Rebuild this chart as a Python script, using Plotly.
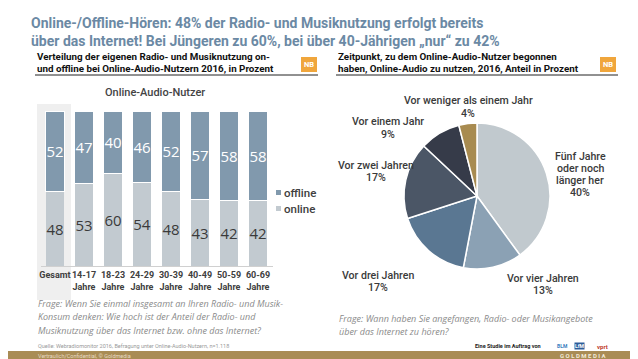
import plotly.graph_objects as go

# ---- data ----
categories = ["Gesamt", "14-17<br>Jahre", "18-23<br>Jahre", "24-29<br>Jahre", "30-39<br>Jahre",
              "40-49<br>Jahre", "50-59<br>Jahre", "60-69<br>Jahre"]
online = [48, 53, 60, 54, 48, 43, 42, 42]
offline = [52, 47, 40, 46, 52, 57, 58, 58]

pie_labels = ["Fünf Jahre oder noch länger her", "Vor vier Jahren", "Vor drei Jahren",
              "Vor zwei Jahren", "Vor einem Jahr", "Vor weniger als einem Jahr"]
pie_values = [40, 13, 17, 17, 9, 4]
pie_label_lines = [["Fünf Jahre", "oder noch", "länger her"], ["Vor vier Jahren"], ["Vor drei Jahren"],
                   ["Vor zwei Jahren"], ["Vor einem Jahr"], ["Vor weniger als einem Jahr"]]

W, H = 638, 359
def px(x): return x / W
def py(y): return 1 - y / H

FONT = "Roboto, sans-serif"
C_OFF = "#8199ad"
C_ON = "#c2cad0"
pie_colors = ["#c1c9ce", "#8ba1b4", "#5a7792", "#4b5666", "#363b49", "#a88b50"]

fig = go.Figure()

fig.add_trace(go.Bar(
    x=categories, y=online, name="online", marker_color=C_ON,
    marker_line_width=0,
    text=online, textposition="inside", insidetextanchor="middle",
    textfont=dict(color="#3a3a3a", size=15, family="Open Sans"),
    showlegend=False, xaxis="x", yaxis="y"))
fig.add_trace(go.Bar(
    x=categories, y=offline, name="offline", marker_color=C_OFF,
    marker_line=dict(color="white", width=1),
    text=offline, textposition="inside", insidetextanchor="middle",
    textfont=dict(color="white", size=15, family="Open Sans"),
    showlegend=False, xaxis="x", yaxis="y"))

fig.add_trace(go.Pie(
    labels=pie_labels, values=pie_values, sort=False, direction="clockwise", rotation=0,
    marker=dict(colors=pie_colors, line=dict(color="white", width=1.5)),
    textinfo="none", hoverinfo="label+percent", showlegend=False,
    domain=dict(x=[px(396), px(542)], y=[py(261), py(115)])))

fig.update_layout(
    width=W, height=H, margin=dict(l=0, r=0, t=0, b=0, autoexpand=False),
    paper_bgcolor="white", plot_bgcolor="rgba(0,0,0,0)",
    barmode="stack", bargap=0.37, showlegend=False,
    uniformtext=dict(minsize=15, mode="show"),
    font=dict(family=FONT, color="#333333"),
    xaxis=dict(domain=[px(32.5), px(264.5)], showline=True, linecolor="#d0d0d0", linewidth=1,
               ticks="", tickangle=0, automargin=False,
               tickfont=dict(family=FONT, size=9, color="#404040"),
               showgrid=False, fixedrange=True),
    yaxis=dict(domain=[py(258), py(103)], range=[0, 100], visible=False, fixedrange=True,
               automargin=False),
)

shapes = [
    # Gesamt highlight band
    dict(type="rect", xref="paper", yref="paper", x0=px(29), x1=px(63), y0=py(292), y1=py(96),
         fillcolor="#efefef", line_width=0, layer="below"),
    # underlines
    dict(type="line", xref="paper", yref="paper", x0=px(27), x1=px(310), y0=py(67), y1=py(67),
         line=dict(color="#222", width=1)),
    dict(type="line", xref="paper", yref="paper", x0=px(328), x1=px(610), y0=py(67), y1=py(67),
         line=dict(color="#222", width=1)),
    # NB badges
    dict(type="rect", xref="paper", yref="paper", x0=px(293), x1=px(309), y0=py(64), y1=py(49),
         fillcolor="#f0a63c", line_width=0),
    dict(type="rect", xref="paper", yref="paper", x0=px(592), x1=px(608), y0=py(64), y1=py(49),
         fillcolor="#f0a63c", line_width=0),
    # legend squares
    dict(type="rect", xref="paper", yref="paper", x0=px(268), x1=px(273), y0=py(187), y1=py(182),
         fillcolor=C_OFF, line_width=0),
    dict(type="rect", xref="paper", yref="paper", x0=px(268), x1=px(273), y0=py(203), y1=py(198),
         fillcolor=C_ON, line_width=0),
    # footer band
    dict(type="rect", xref="paper", yref="paper", x0=0, x1=1, y0=py(352), y1=py(343),
         fillcolor="#a98c55", line_width=0),
]
fig.update_layout(shapes=shapes)

ann = []
def A(x, y, text, size=11, color="#333", family=FONT, xanchor="left", align="left", weight=None, **kw):
    f = dict(size=size, color=color, family=family)
    if weight:
        f["weight"] = weight
    ann.append(dict(x=px(x), y=py(y), xref="paper", yref="paper", text=text, showarrow=False,
                    xanchor=xanchor, yanchor="middle", align=align, font=f,
                    borderpad=0, **kw))

TITLE_C = "#6b89a4"
A(22, 15, "<b>Online-/Offline-Hören: 48% der Radio- und Musiknutzung erfolgt bereits</b>",
  size=14, color=TITLE_C)
A(22, 33, "<b>über das Internet! Bei Jüngeren zu 60%, bei über 40-Jährigen „nur“ zu 42%</b>",
  size=14, color=TITLE_C)
A(28, 49, "<b>Verteilung der eigenen Radio- und Musiknutzung on-</b>", size=9.8, color="#111")
A(28, 60, "<b>und offline bei Online-Audio-Nutzern 2016, in Prozent</b>", size=9.8, color="#111")
A(329, 49, "<b>Zeitpunkt, zu dem Online-Audio-Nutzer begonnen</b>", size=9.8, color="#111")
A(329, 60, "<b>haben, Online-Audio zu nutzen, 2016, Anteil in Prozent</b>", size=9.8, color="#111")
A(301, 56.5, "<b>NB</b>", size=7.5, color="white", xanchor="center", align="center")
A(600, 56.5, "<b>NB</b>", size=7.5, color="white", xanchor="center", align="center")

A(147, 85, "Online-Audio-Nutzer", size=11, color="#444", xanchor="center", align="center", weight=500)

# legend text
A(275, 184.5, "offline", size=11.5, color="#404040", weight=500)
A(275, 200.5, "online", size=11.5, color="#404040", weight=500)

# pie labels (line by line)
pie_pos = [(572, 148), (535, 270), (370, 267), (368, 157), (380, 114), (460, 93)]
LS = 12.3
for lines, v, (x, y) in zip(pie_label_lines, pie_values, pie_pos):
    for i, t in enumerate(lines + [f"{v}%"]):
        A(x, y + i * LS, t, size=10.6, color="#3a3a3a", xanchor="center", align="center", weight=500)

q1 = ["Frage: Wenn Sie einmal insgesamt an Ihren Radio- und Musik-",
      "Konsum denken: Wie hoch ist der Anteil der Radio- und",
      "Musiknutzung über das Internet bzw. ohne das Internet?"]
for i, t in enumerate(q1):
    A(29, 295 + i * 13.5, f"<i>{t}</i>", size=9, color="#8a8a8a", family="Open Sans")
q2 = ["Frage: Wann haben Sie angefangen, Radio- oder Musikangebote",
      "über das Internet zu hören?"]
for i, t in enumerate(q2):
    A(330, 310 + i * 13.5, f"<i>{t}</i>", size=9, color="#8a8a8a", family="Open Sans")

A(29, 338, "Quelle: Webradiomonitor 2016, Befragung unter Online-Audio-Nutzern, n=1.118",
  size=5.5, color="#999")
A(29, 347.5, "Vertraulich/Confidential, © Goldmedia", size=5.5, color="#e8dcc4")
A(466, 338, "<b>Eine Studie im Auftrag von</b>", size=5.5, color="#222")
A(548, 338, "<b>BLM</b>", size=5, color="#3a7fc0")
A(566, 338, "<b>LfM</b>", size=5, color="white", bgcolor="#2c5d9a")
A(588, 338, "<b>vprt</b>", size=6, color="#c0392b")
A(600, 347.5, "<b>G O L D M E D I A</b>", size=6, color="#f2ead8", xanchor="right")
A(624, 347.5, "<b>9</b>", size=6, color="#f2ead8", xanchor="center")

fig.update_layout(annotations=ann)
fig.update_xaxes(tickvals=categories, ticktext=[f"<b>{c}</b>" for c in categories])

fig.write_html("out.html")
